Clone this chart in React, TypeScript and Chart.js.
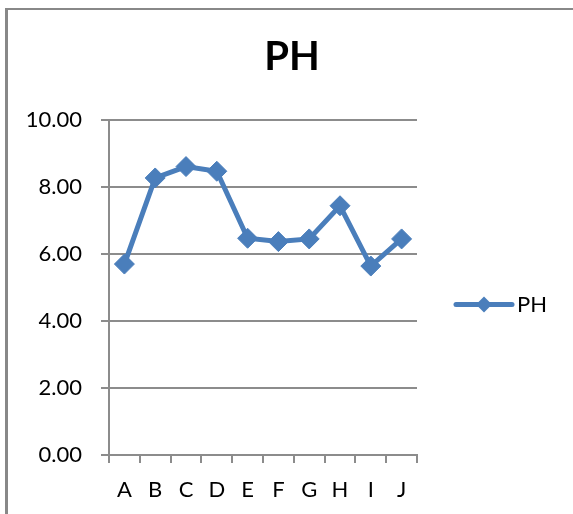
import React, { useEffect, useRef } from 'react';
import { Chart, registerables } from 'chart.js';

Chart.register(...registerables);

const categories = ['A', 'B', 'C', 'D', 'E', 'F', 'G', 'H', 'I', 'J'];
const phValues = [5.7, 8.27, 8.61, 8.47, 6.47, 6.37, 6.45, 7.44, 5.64, 6.45];
const seriesLabel = 'PH';
const chartTitle = 'PH';
const yMin = 0;
const yMax = 10;
const yStep = 2;

const FONT = 'Lato';
const BLUE = '#4a7ebb';
const GRID = '#8c8c8c';

const legendPlugin = {
  id: 'excelLegend',
  afterDraw(chart: any) {
    const { ctx, chartArea } = chart;
    const ds = chart.data.datasets[0];
    const x0 = chartArea.right + 39;
    const y = (chartArea.top + chartArea.bottom) / 2 + 17;
    ctx.save();
    ctx.strokeStyle = ds.borderColor;
    ctx.lineWidth = 5;
    ctx.lineCap = 'round';
    ctx.beginPath();
    ctx.moveTo(x0, y);
    ctx.lineTo(x0 + 56, y);
    ctx.stroke();
    const cx = x0 + 28;
    const r = 8;
    ctx.fillStyle = ds.borderColor;
    ctx.beginPath();
    ctx.moveTo(cx - r, y);
    ctx.lineTo(cx, y - r);
    ctx.lineTo(cx + r, y);
    ctx.lineTo(cx, y + r);
    ctx.closePath();
    ctx.fill();
    ctx.fillStyle = '#000';
    ctx.font = `22px ${FONT}`;
    ctx.textBaseline = 'middle';
    ctx.textAlign = 'left';
    ctx.fillText(ds.label, x0 + 61, y);
    ctx.restore();
  },
};

export default function App() {
  const ref = useRef<HTMLCanvasElement | null>(null);

  useEffect(() => {
    if (!ref.current) return;
    const chart = new Chart(ref.current, {
      type: 'line',
      data: {
        labels: categories,
        datasets: [
          {
            label: seriesLabel,
            data: phValues,
            borderColor: BLUE,
            backgroundColor: BLUE,
            borderWidth: 5,
            pointStyle: 'rectRot',
            pointRadius: 10,
            pointBorderWidth: 1,
            pointBackgroundColor: BLUE,
            pointBorderColor: BLUE,
            tension: 0,
            yAxisID: 'y',
          },
        ],
      },
      options: {
        responsive: false,
        animation: false,
        devicePixelRatio: 1,
        layout: { padding: 0 },
        plugins: {
          legend: { display: false },
          tooltip: { enabled: false },
          title: {
            display: true,
            text: chartTitle,
            color: '#000',
            font: { family: FONT, size: 40, weight: 'bold' },
            padding: { top: 33, bottom: 39 },
          },
        },
        scales: {
          x: {
            type: 'category',
            offset: true,
            grid: {
              offset: true,
              drawOnChartArea: false,
              drawTicks: true,
              tickLength: 8,
              color: GRID,
              lineWidth: 2,
            },
            border: { color: GRID, width: 2 },
            ticks: {
              color: '#000',
              font: { family: FONT, size: 22 },
              padding: 14,
              maxRotation: 0,
              autoSkip: false,
            },
            afterFit: (s: any) => {
              s.height = 59;
            },
          },
          y: {
            min: yMin,
            max: yMax,
            grid: { color: GRID, lineWidth: 2, tickLength: 8 },
            border: { color: GRID, width: 2 },
            ticks: {
              stepSize: yStep,
              color: '#000',
              font: { family: FONT, size: 22 },
              padding: 19,
              callback: (v: any) => Number(v).toFixed(2),
            },
            afterFit: (s: any) => {
              s.width = 104;
            },
          },
          y2: {
            position: 'right',
            display: true,
            grid: { display: false },
            border: { display: false },
            ticks: { display: false },
            afterFit: (s: any) => {
              s.width = 162;
            },
          },
        },
      },
      plugins: [legendPlugin],
    });
    return () => chart.destroy();
  }, []);

  return (
    <>
      <div
        style={{
          position: 'fixed',
          left: 5,
          top: 8,
          width: 700,
          height: 700,
          borderLeft: '3px solid #888',
          borderTop: '2px solid #888',
          boxSizing: 'border-box',
        }}
      />
      <canvas
        ref={ref}
        width={574}
        height={514}
        style={{ position: 'fixed', left: 5, top: 0, width: 574, height: 514 }}
      />
    </>
  );
}
